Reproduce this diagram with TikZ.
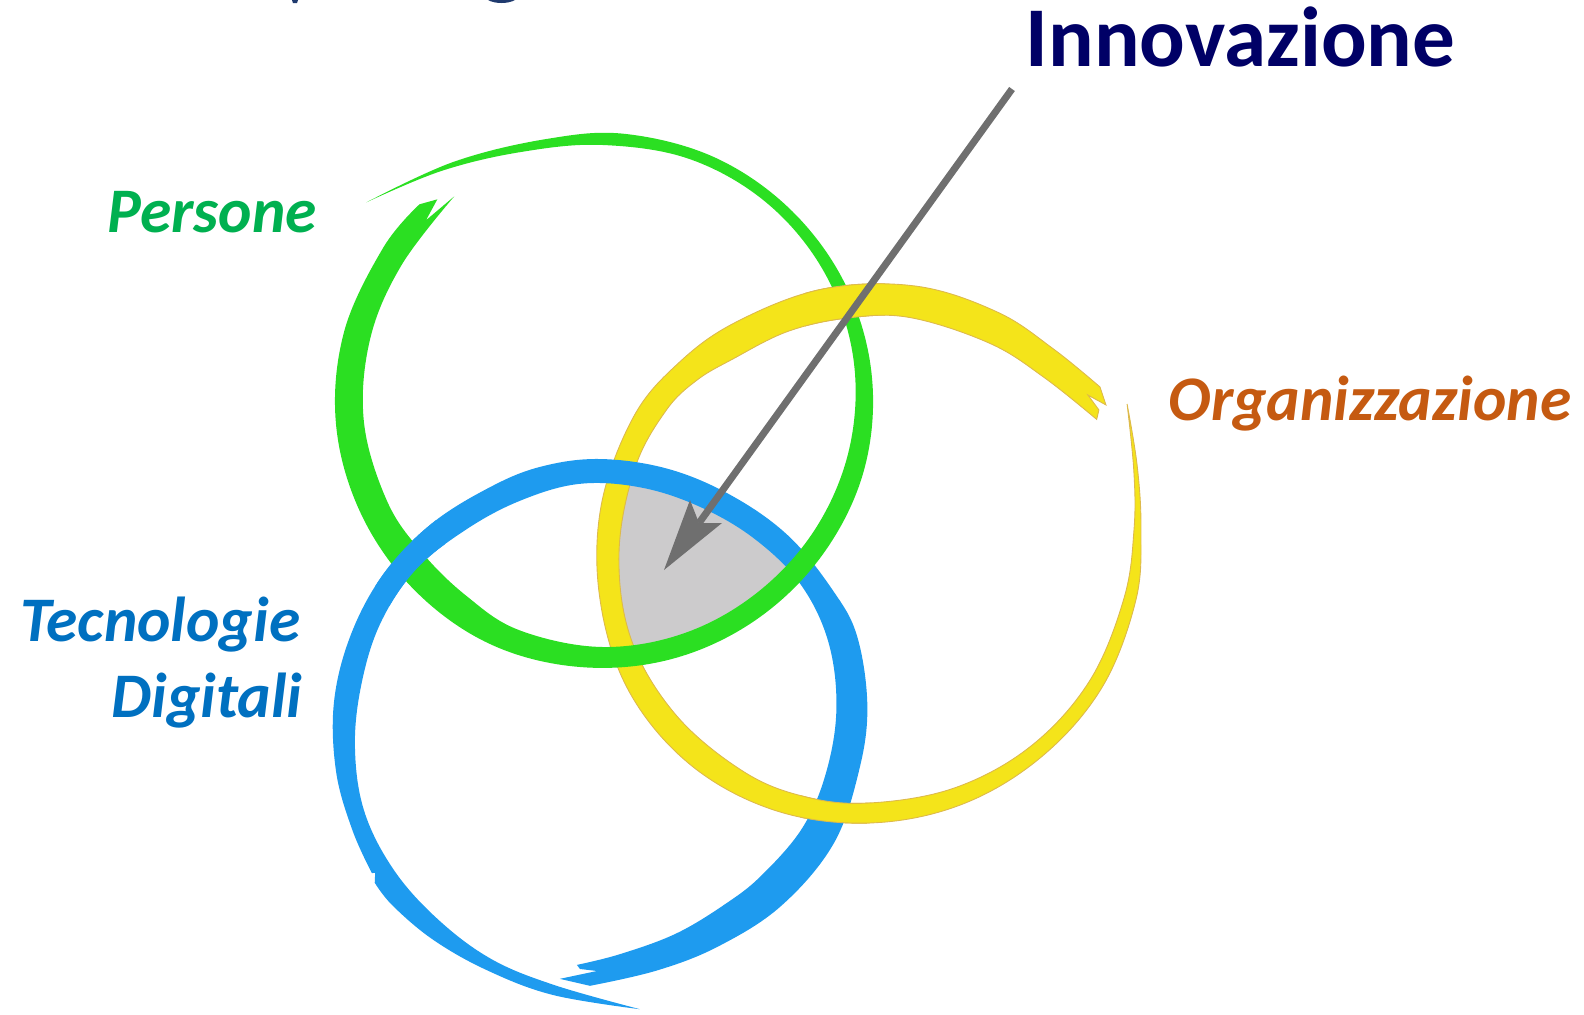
\documentclass[tikz,border=0pt]{standalone}
\usepackage{fontspec}
\setmainfont{Carlito}
\definecolor{ringgreen}{HTML}{2BDF22}
\definecolor{ringyellow}{HTML}{F4E41A}
\definecolor{ringblue}{HTML}{1E9BEF}
\definecolor{edgeyellow}{HTML}{DDB94C}
\definecolor{coregray}{HTML}{CCCBCC}
\definecolor{arrowgray}{HTML}{6F6F6F}
\definecolor{navytext}{HTML}{000066}
\definecolor{frag}{HTML}{1F3A6E}
\tikzset{
 sm/.style={smooth,tension=0.61},
 greenring/.style={shift={(603,401)},fill=ringgreen},
 yellowring/.style={shift={(869,553)},fill=ringyellow,draw=edgeyellow,line width=0.25pt},
 bluering/.style={shift={(600,725)},fill=ringblue},
 labeltext/.style={inner sep=0,font=\fontsize{18.05pt}{20pt}\selectfont\bfseries\itshape},
}
\def\ringG{plot[sm] coordinates {(220:309)(238:282)(258:268)(275:268)(295:268)(315:268)(335:269)(355:270)(375:270)(395:268)(415:267)(435:267)(455:267)(475:268)(495:267)(515:267)(535:268)(555:268)(575:268)(587:269)}
 -- (590.6:261) -- (585.6:253) -- (594:253) --
 plot[sm] coordinates {(594:253)(574:243)(555:241)(535:240)(515:238)(500:236)(485:238)(470:244)(450:246)(430:246)(410:246)(390:248)(370:251)(350:254)(330:256)(310:257)(290:257)(270:256)(252:262)(235:281)(220:309)} -- cycle}
\def\ringY{(328:279.4) -- plot[sm] coordinates {(324.3:284.5)(312:275)(298:273)(280:271)(260:268)(240:266.5)(225:269)(210:272)(190:272)(170:273)(150:277)(130:277)(110:274)(90:270)(70:268)(50:267)(30:269)(10:271)(-5:273)(-18:282)(-30:298)}
 -- plot[sm] coordinates {(-30:298)(-17:277)(-5:266)(10:259)(30:255)(50:252)(70:250)(90:250)(105:252)(120:252)(140:252)(160:253)(180:250)(200:249)(215:248)(225:244)(235:237)(250:236)(265:236)(280:239)(300:242)(315:248)(329.6:264)}
 -- (328.1:270.8) -- (324.2:270) -- cycle}
\def\ringB{plot[sm] coordinates {(95.5:241)(85:230)(70:222)(55:218.5)(43:220.7)(27:227)(12:231)(-4:237)(-20:243)(-35:245)(-50:242)(-65:240)(-80:241)(-95:242)(-110:238)(-125:237)(-140:241)(-155:242)(-170:242)(-185:246)(-200:251)(-215:252)(-230:253)(-245:258)(-260:264)(-278:287)}
 -- plot[sm] coordinates {(-278:287)(-260:274)(-245:270)(-232:272)(-221:275)(-215:275)}
 -- (-213.3:269) -- (-213:272) --
 plot[sm] coordinates {(-213:272)(-203:269)(-190:268)(-175:267)(-160:265)(-145:264)(-130:262.5)(-115:262)(-103:265)(-90:266)(-75:265)(-60:264.5)(-45:267)(-30:269)(-19:272)(-4:268)(10:263)(27:262)(45:256)(62:251)(77:252)(92.2:261)}
 -- (99:257) -- (90.7:246) -- (94.7:244.8) -- cycle}
\begin{document}
\begin{tikzpicture}[x=0.01cm,y=-0.01cm]
\useasboundingbox (0,0) rectangle (1584,1014);
% clipped fragments of the title at the top edge
\fill[frag] (292,0) -- (298,0) -- (297,3) -- (293,3) -- cycle;
\fill[frag] (488,0) .. controls (495,4) and (508,4) .. (515,0) -- cycle;
% centre
\fill[coregray] (612,478) -- (700,495) -- (795,565) -- (740,625) -- (630,652) -- (608,600) -- cycle;
% rings
\path[yellowring] \ringY;
\path[bluering] \ringB;
\path[greenring] \ringG;
% over/under patches
\begin{scope}
 \clip (375,520) rectangle (445,605);
 \path[bluering] \ringB;
\end{scope}
\begin{scope}
 \clip (805,272) rectangle (885,326);
 \path[yellowring] \ringY;
\end{scope}
\begin{scope}
 \clip (800,790) rectangle (870,832);
 \path[yellowring] \ringY;
\end{scope}
% arrow
\coordinate (arrowstart) at (1012,89);
\coordinate (arrowneck) at (699,523);
\coordinate (arrowtip) at (664,570);
\coordinate (wingA) at (690,500);
\coordinate (wingB) at (722,523);
\draw[arrowgray,line width=2pt] (arrowstart) -- (arrowneck);
\fill[arrowgray] (arrowtip) -- (wingA) -- (arrowneck) -- (wingB) -- cycle;
% labels
\node[anchor=base west,inner sep=0,text=navytext,font=\fontsize{24.2pt}{26pt}\selectfont\bfseries] (innov) at (1025,66) {Innovazione};
\node[labeltext,anchor=base west,text={rgb,255:red,0;green,176;blue,80}] (persone) at (107,232) {Persone};
\node[labeltext,anchor=base west,text={rgb,255:red,197;green,90;blue,17}] (organ) at (1168,420) {Organizzazione};
\node[labeltext,anchor=base east,text={rgb,255:red,0;green,112;blue,192}] (tecno) at (301,641) {Tecnologie};
\node[labeltext,anchor=base east,text={rgb,255:red,0;green,112;blue,192}] (digi) at (303,717) {Digitali};
\end{tikzpicture}
\end{document}
